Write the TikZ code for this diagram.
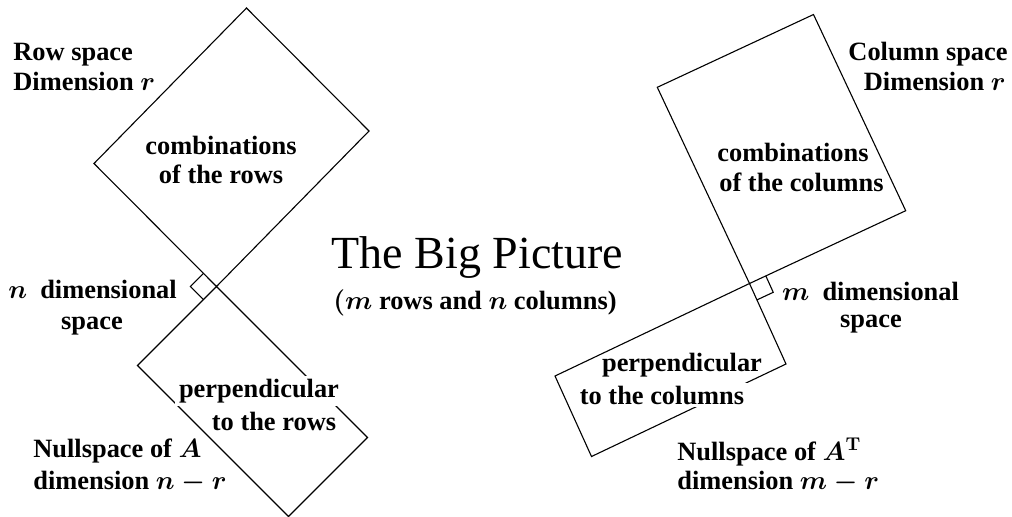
\documentclass[tikz,border=0pt]{standalone}
\usepackage[no-math]{fontspec}
\setmainfont{Liberation Serif}
\DeclareFontFamily{OML}{cmm}{\skewchar\font127 }
\DeclareFontShape{OML}{cmm}{m}{it}{<->cmmi10}{}
\DeclareFontShape{OML}{cmm}{b}{it}{<->cmmib10}{}
\DeclareFontFamily{OMS}{cmsy}{\skewchar\font48 }
\DeclareFontShape{OMS}{cmsy}{m}{n}{<->cmsy10}{}
\DeclareFontShape{OMS}{cmsy}{b}{n}{<->cmbsy10}{}
\DeclareFontFamily{OT1}{cmr}{\hyphenchar\font45 }
\DeclareFontShape{OT1}{cmr}{m}{n}{<->cmr10}{}
\DeclareFontShape{OT1}{cmr}{bx}{n}{<->cmbx10}{}
\usetikzlibrary{calc}
\tikzset{
  lbl/.style={inner sep=0pt, font=\fontsize{13.2}{15.5}\selectfont\bfseries\boldmath},
  cutlbl/.style={lbl, fill=white, inner xsep=2pt, inner ysep=1.5pt},
  ttl/.style={inner sep=0pt, font=\fontsize{23}{28}\selectfont},
  edge/.style={line width=0.55pt, line join=miter},
}
\begin{document}
\begin{tikzpicture}[x=0.5pt,y=-0.5pt]
\path[use as bounding box] (0,0) rectangle (1012,516);
% left figure
\coordinate (P1) at (216.5,286.5);
\coordinate (L1) at (94,163.5);
\coordinate (R1) at (369,131);
\coordinate (T1) at ($(L1)+(R1)-(P1)$);
\coordinate (L2) at (137.5,365.5);
\coordinate (R2) at (367.5,437.5);
\coordinate (B2) at ($(L2)+(R2)-(P1)$);
\draw[edge] (P1) -- (L1) -- (T1) -- (R1) -- cycle;
\draw[edge] (P1) -- (L2) -- (B2) -- (R2) -- cycle;
\coordinate (a1) at ($(P1)!9.25pt!(L1)$);
\coordinate (a2) at ($(P1)!9.25pt!(L2)$);
\draw[edge] (a1) -- ($(a1)+(a2)-(P1)$) -- (a2);
% right figure
\coordinate (P2) at (749.5,283.5);
\coordinate (L3) at (657.3,87.3);
\coordinate (R3) at (905.7,210.7);
\coordinate (T3) at ($(L3)+(R3)-(P2)$);
\coordinate (L4) at (555,376);
\coordinate (R4) at (786,364);
\coordinate (B4) at ($(L4)+(R4)-(P2)$);
\draw[edge] (P2) -- (L3) -- (T3) -- (R3) -- cycle;
\draw[edge] (P2) -- (L4) -- (B4) -- (R4) -- cycle;
\coordinate (b1) at ($(P2)!9pt!(R3)$);
\coordinate (b2) at ($(P2)!9pt!(R4)$);
\draw[edge] (b1) -- ($(b1)+(b2)-(P2)$) -- (b2);
% left labels
\node[lbl, anchor=base west] (rs1) at (13,60) {Row space};
\node[lbl, anchor=base west] (rs2) at (13,90.7) {Dimension $r$};
\node[lbl, anchor=base] (cr1) at (221,154) {combinations};
\node[lbl, anchor=base] (cr2) at (221,183.3) {of the rows};
\node[lbl, anchor=base] (nd1) at (92.5,298.3) {$n$\hspace{0.5em}dimensional};
\node[lbl, anchor=base] (nd2) at (92,329) {space};
\node[cutlbl, anchor=base] (pr1) at (259,397.7) {perpendicular};
\node[lbl, anchor=base] (pr2) at (274,430) {to the rows};
\node[lbl, anchor=base west] (ns1) at (33,457.3) {Nullspace of $A$};
\node[lbl, anchor=base west] (ns2) at (33,489.3) {dimension $n-r$};
% centre
\node[ttl, anchor=base] (title) at (477.3,268) {The Big Picture};
\node[lbl, anchor=base] (sub) at (475,309.3) {$(m$ rows and $n$ columns)};
% right labels
\node[lbl, anchor=base east] (cs1) at (1008,60.7) {Column space};
\node[lbl, anchor=base east] (cs2) at (1006,90) {Dimension $r$};
\node[lbl, anchor=base] (cc1) at (793,161.7) {combinations};
\node[lbl, anchor=base] (cc2) at (801.5,191.7) {of the columns};
\node[lbl, anchor=base] (md1) at (870.5,300.7) {$m$\hspace{0.5em}dimensional};
\node[lbl, anchor=base] (md2) at (871,327) {space};
\node[lbl, anchor=base] (pc1) at (682,371.7) {perpendicular};
\node[cutlbl, anchor=base] (pc2) at (662,404) {to the columns};
\node[lbl, anchor=base west] (nt1) at (677,460) {Nullspace of $A^{\mathrm{T}}$};
\node[lbl, anchor=base west] (nt2) at (677,489.3) {dimension $m-r$};
\end{tikzpicture}
\end{document}
